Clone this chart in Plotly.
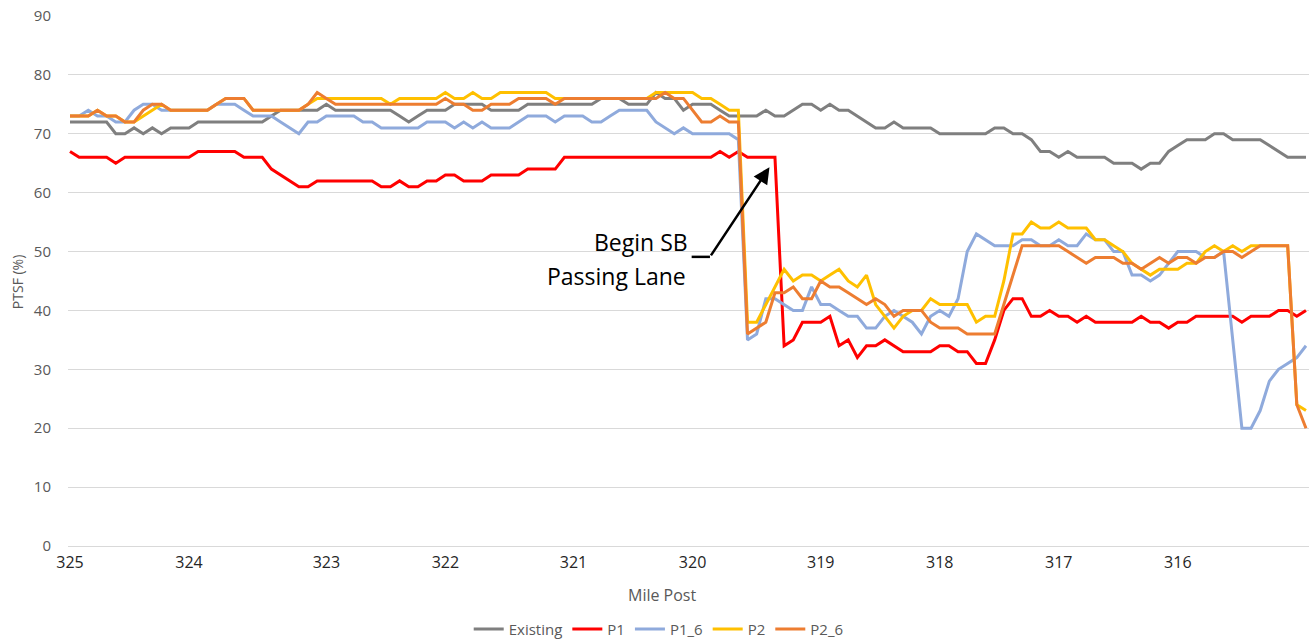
import plotly.graph_objects as go

# PTSF (%) along the corridor, one value per analysis point (index 0..135, mile post 325 -> ~315)
existing = [
    72, 72, 72, 72, 72,
    70, 70, 71, 70, 71, 70, 71, 71, 71,
    72, 72, 72, 72, 72, 72, 72, 72,
    73, 74, 74, 74, 74, 74,
    75,
    74, 74, 74, 74, 74, 74, 74,
    73, 72, 73,
    74, 74, 74,
    75, 75, 75, 75,
    74, 74, 74, 74,
    75, 75, 75, 75, 75, 75, 75, 75,
    76, 76, 76,
    75, 75, 75,
    77, 76, 76,
    74, 75, 75, 75, 74,
    73, 73, 73, 73,
    74, 73, 73, 74,
    75, 75, 74, 75, 74, 74,
    73, 72, 71, 71,
    72, 71, 71, 71, 71,
    70, 70, 70, 70, 70, 70,
    71, 71, 70, 70,
    69, 67, 67, 66, 67,
    66, 66, 66, 66,
    65, 65, 65, 64, 65, 65,
    67, 68, 69, 69, 69, 70, 70,
    69, 69, 69, 69,
    68, 67, 66, 66, 66,
]

p1 = [
    67,
    66, 66, 66, 66,
    65,
    66, 66, 66, 66, 66, 66, 66, 66,
    67, 67, 67, 67, 67,
    66, 66, 66,
    64, 63, 62, 61, 61,
    62, 62, 62, 62, 62, 62, 62,
    61, 61,
    62,
    61, 61,
    62, 62,
    63, 63,
    62, 62, 62,
    63, 63, 63, 63,
    64, 64, 64, 64,
    66, 66, 66, 66, 66, 66, 66, 66, 66, 66, 66, 66, 66, 66, 66, 66, 66,
    67, 66, 67, 66,
    66, 66, 66,
    34, 35, 38, 38, 38, 39,
    34, 35, 32, 34, 34, 35,
    34, 33, 33, 33, 33,
    34, 34, 33, 33, 31,
    31, 35, 40, 42, 42,
    39, 39, 40, 39, 39,
    38, 39, 38, 38, 38, 38, 38,
    39, 38, 38, 37, 38, 38,
    39, 39, 39, 39, 39,
    38, 39, 39, 39, 40, 40, 39, 40,
]

p1_6 = [
    73, 73, 74, 73, 73,
    72, 72,
    74, 75, 75,
    74, 74, 74, 74, 74, 74,
    75, 75, 75,
    74, 73, 73, 73,
    72, 71, 70,
    72, 72,
    73, 73, 73, 73,
    72, 72,
    71, 71, 71, 71, 71,
    72, 72, 72,
    71, 72, 71, 72,
    71, 71, 71,
    72,
    73, 73, 73,
    72,
    73, 73, 73,
    72, 72,
    73,
    74, 74, 74, 74,
    72, 71, 70, 71, 70,
    70, 70, 70, 70,
    69,
    35, 36, 42, 42,
    41, 40, 40, 44, 41, 41,
    40, 39, 39, 37, 37, 39,
    40, 39, 38, 36, 39, 40, 39,
    42, 50, 53, 52, 51, 51, 51,
    52, 52, 51, 51, 52, 51, 51,
    53, 52, 52, 50, 50,
    46, 46, 45, 46, 48, 50,
    50, 50, 49, 49, 50,
    35, 20, 20, 23, 28, 30, 31, 32, 34,
]

p2 = [
    73, 73, 73,
    74, 73, 73, 72, 72,
    73, 74, 75,
    74, 74, 74, 74, 74,
    75,
    76, 76, 76,
    74, 74, 74, 74, 74, 74,
    75, 76,
    76, 76, 76, 76, 76, 76, 76,
    75,
    76, 76, 76, 76, 76,
    77, 76, 76, 77, 76, 76,
    77, 77, 77, 77, 77, 77,
    76, 76, 76, 76, 76, 76, 76, 76, 76, 76, 76,
    77, 77, 77, 77, 77,
    76, 76, 75, 74, 74,
    38, 38, 41, 44, 47,
    45, 46, 46, 45, 46, 47, 45, 44, 46,
    41, 39, 37, 39, 40, 40,
    42, 41, 41, 41, 41,
    38, 39, 39, 45, 53, 53,
    55, 54, 54, 55, 54, 54, 54,
    52, 52, 51, 50, 48, 47,
    46, 47, 47, 47, 48, 48,
    50, 51, 50, 51, 50, 51, 51, 51, 51, 51,
    24, 23,
]

p2_6 = [
    73, 73, 73,
    74, 73, 73, 72, 72,
    74, 75, 75,
    74, 74, 74, 74, 74,
    75,
    76, 76, 76,
    74, 74, 74, 74, 74, 74,
    75, 77, 76, 75,
    75, 75, 75, 75, 75, 75, 75, 75, 75, 75, 75,
    76, 75, 75, 74, 74,
    75, 75, 75,
    76, 76, 76, 76,
    75,
    76, 76, 76, 76, 76, 76, 76, 76, 76, 76, 76,
    77, 76, 76, 74,
    72, 72, 73, 72, 72,
    36, 37, 38, 43, 43, 44,
    42, 42, 45, 44, 44, 43,
    42, 41, 42, 41, 39, 40, 40, 40,
    38, 37, 37, 37, 36, 36, 36, 36,
    41, 46, 51,
    51, 51, 51, 51,
    50, 49, 48, 49, 49, 49,
    48, 48, 47, 48, 49, 48,
    49, 49, 48, 49, 49,
    50, 50, 49, 50,
    51, 51, 51, 51,
    24, 20,
]

# Mile post labels and the analysis point each one sits on
mile_posts = ["325", "324", "323", "322", "321", "320", "319", "318", "317", "316"]
mile_post_idx = [0, 13, 28, 41, 55, 68, 82, 95, 108, 121]

series = [
    ("Existing", existing, "#7f7f7f"),
    ("P1", p1, "#ff0000"),
    ("P1_6", p1_6, "#8faadc"),
    ("P2", p2, "#ffc000"),
    ("P2_6", p2_6, "#ed7d31"),
]

FONT = "Open Sans"
GRID = "#d9d9d9"

fig = go.Figure()
for name, vals, color in series:
    fig.add_trace(go.Scatter(
        x=list(range(len(vals))), y=vals, name=name, mode="lines",
        line=dict(color=color, width=3),
    ))

fig.update_layout(
    width=1309, height=639,
    autosize=False,
    margin=dict(l=68, r=0, t=16, b=93, autoexpand=False),
    plot_bgcolor="white",
    paper_bgcolor="white",
    font=dict(family=FONT, color="#595959"),
    showlegend=True,
    legend=dict(
        orientation="h", x=0.476, xanchor="center",
        y=-0.157, yanchor="middle",
        font=dict(size=15, color="#595959", family=FONT),
        itemwidth=30, tracegroupgap=0,
    ),
    xaxis=dict(
        range=[-0.218, 135.33],
        tickmode="array", tickvals=mile_post_idx, ticktext=mile_posts,
        showgrid=False, zeroline=False, showline=False,
        ticks="", tickfont=dict(size=16, color="#262626", family=FONT),
        ticklabelstandoff=5,
    ),
    yaxis=dict(
        range=[0, 90], dtick=10, tick0=0,
        showgrid=True, gridcolor=GRID, gridwidth=1,
        zeroline=True, zerolinecolor=GRID, zerolinewidth=1,
        showline=False, ticks="",
        tickfont=dict(size=15, color="#595959", family=FONT),
        ticklabelstandoff=16,
    ),
)

# axis titles
fig.add_annotation(
    text="Mile Post", xref="paper", yref="paper",
    x=0.479, y=-0.0925, xanchor="center", yanchor="middle",
    showarrow=False, font=dict(size=16, color="#595959", family=FONT),
)
fig.add_annotation(
    text="PTSF (%)", xref="paper", yref="paper",
    x=-0.041, y=0.498, xanchor="center", yanchor="middle", textangle=-90,
    showarrow=False, font=dict(size=14, color="#595959", family=FONT),
)

# callout for the start of the southbound passing lane
fig.add_annotation(
    text="Begin SB", x=67.7, y=51.6, xref="x", yref="y",
    xanchor="right", yanchor="middle", showarrow=False,
    font=dict(size=23, color="black", family=FONT),
)
fig.add_annotation(
    text="Passing Lane", x=67.5, y=45.8, xref="x", yref="y",
    xanchor="right", yanchor="middle", showarrow=False,
    font=dict(size=23, color="black", family=FONT),
)
fig.add_shape(
    type="line", xref="x", yref="y",
    x0=67.9, y0=49.1, x1=69.9, y1=49.1,
    line=dict(color="black", width=2.5),
)
fig.add_annotation(
    text="", x=76.4, y=64.3, xref="x", yref="y",
    ax=69.9, ay=49.1, axref="x", ayref="y",
    showarrow=True, arrowhead=2, arrowsize=1.3, arrowwidth=2.5,
    arrowcolor="black", standoff=0, startstandoff=0,
)

fig.write_html("out.html")
